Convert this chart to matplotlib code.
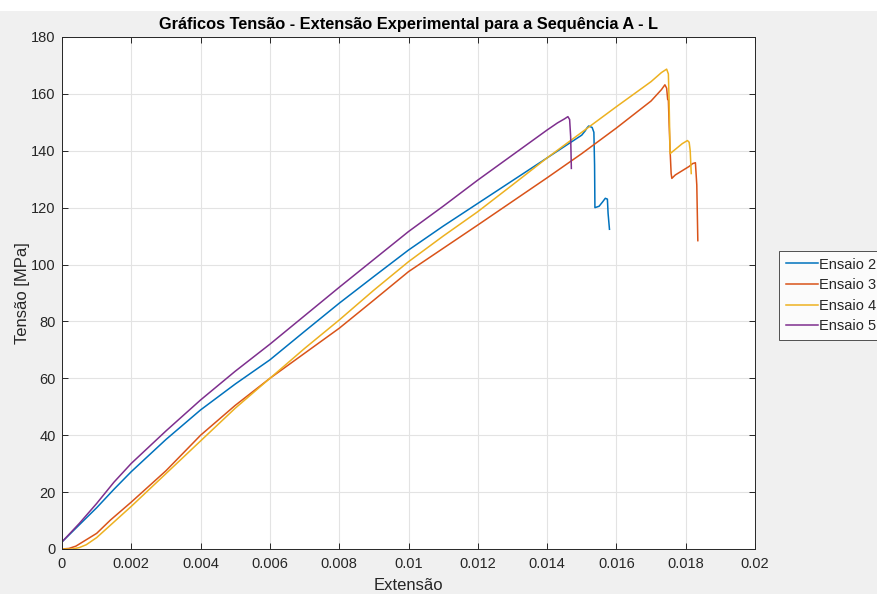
import matplotlib.pyplot as plt
from matplotlib.patches import Rectangle

# extensão / tensão
ens2_x = [0, 0.0005, 0.001, 0.0015, 0.002, 0.003, 0.004, 0.005, 0.006, 0.007, 0.008, 0.009,
          0.010, 0.011, 0.012, 0.013, 0.014, 0.0145, 0.015, 0.0151, 0.01515, 0.0152, 0.0153,
          0.01535, 0.01537, 0.01538, 0.0155, 0.0156, 0.01568, 0.01574, 0.01576, 0.0158]
ens2_y = [2.5, 8.5, 14.5, 21.0, 27.2, 38.5, 48.9, 58.0, 66.5, 76.5, 86.4, 95.8,
          105.1, 113.5, 121.5, 129.5, 137.5, 141.5, 145.5, 147.0, 148.0, 148.7, 148.2,
          146.5, 135.0, 120.0, 120.5, 122.0, 123.3, 123.0, 118.0, 112.4]

ens3_x = [0, 0.0002, 0.0004, 0.0006, 0.0008, 0.001, 0.0014, 0.002, 0.003, 0.004, 0.005, 0.006,
          0.007, 0.008, 0.009, 0.010, 0.011, 0.012, 0.013, 0.014, 0.015, 0.016, 0.017,
          0.0173, 0.0174, 0.01745, 0.01748, 0.0175, 0.01752, 0.01755, 0.01758, 0.0176,
          0.0177, 0.0179, 0.0181, 0.0182, 0.01828, 0.01832, 0.01835]
ens3_y = [0, 0.2, 1.0, 2.5, 4.0, 5.5, 10.2, 16.5, 27.5, 40.0, 50.5, 60.0,
          68.8, 77.6, 87.5, 97.5, 105.7, 113.9, 122.2, 130.5, 139.0, 148.0, 157.5,
          161.5, 163.2, 162.0, 158.0, 157.8, 150.0, 140.0, 132.0, 130.3,
          131.5, 133.0, 134.5, 135.5, 135.8, 128.0, 108.4]

ens4_x = [0, 0.0003, 0.0005, 0.0007, 0.001, 0.0015, 0.002, 0.003, 0.004, 0.005, 0.006, 0.007,
          0.008, 0.009, 0.010, 0.011, 0.012, 0.013, 0.014, 0.015, 0.016, 0.017, 0.0173,
          0.01745, 0.0175, 0.01752, 0.01755, 0.0177, 0.0179, 0.01805, 0.0181, 0.01813,
          0.01816]
ens4_y = [0, 0.0, 0.5, 1.5, 4.0, 9.5, 15.0, 26.5, 38.0, 49.5, 60.0, 70.5,
          80.5, 91.0, 101.0, 110.0, 118.6, 128.0, 137.5, 146.5, 155.5, 164.3, 167.5,
          168.7, 167.0, 158.0, 139.0, 140.5, 142.5, 143.6, 143.0, 140.0,
          132.0]

ens5_x = [0, 0.0005, 0.001, 0.0015, 0.002, 0.003, 0.004, 0.005, 0.006, 0.007, 0.008, 0.009,
          0.010, 0.011, 0.012, 0.013, 0.014, 0.0143, 0.0145, 0.0146, 0.01465, 0.01468,
          0.0147]
ens5_y = [2.5, 9.0, 16.0, 23.5, 30.1, 41.5, 52.4, 62.5, 72.0, 82.0, 92.0, 101.8,
          111.6, 120.5, 129.7, 138.5, 147.3, 149.8, 151.2, 152.0, 151.0, 145.0,
          133.8]

series = [
    (ens2_x, ens2_y, 'Ensaio 2', '#0072BD'),
    (ens3_x, ens3_y, 'Ensaio 3', '#D95319'),
    (ens4_x, ens4_y, 'Ensaio 4', '#EDB120'),
    (ens5_x, ens5_y, 'Ensaio 5', '#7E2F8E'),
]

plt.rcParams['font.family'] = ['Liberation Sans', 'DejaVu Sans']

W, H = 878, 594
fig = plt.figure(figsize=(W / 100, H / 100), dpi=100, facecolor='#f0f0f0')
# white strip along the top edge
fig.patches.append(Rectangle((0, 1 - 11 / H), 1, 11 / H, transform=fig.transFigure,
                             facecolor='white', edgecolor='none', zorder=0))

ax = fig.add_axes([62 / W, (H - 549) / H, (755 - 62) / W, (549 - 37) / H])
ax.set_facecolor('white')

for xs, ys, name, col in series:
    ax.plot(xs, ys, color=col, lw=1.1, label=name)

ax.set_xlim(0, 0.02)
ax.set_ylim(0, 180)
ax.set_xticks([0, 0.002, 0.004, 0.006, 0.008, 0.01, 0.012, 0.014, 0.016, 0.018, 0.02])
ax.set_xticklabels(['0', '0.002', '0.004', '0.006', '0.008', '0.01', '0.012', '0.014',
                    '0.016', '0.018', '0.02'])
ax.set_yticks(range(0, 181, 20))
ax.grid(True, color='#e3e3e3', lw=0.8)
ax.set_axisbelow(True)
ax.tick_params(direction='in', length=4, width=0.7, colors='#262626', labelsize=10.5,
               top=True, right=True)
ax.tick_params(axis='x', pad=6)
ax.tick_params(axis='y', pad=4.5)
for sp in ax.spines.values():
    sp.set_color('#262626')
    sp.set_linewidth(0.7)

ax.set_title('Gráficos Tensão - Extensão Experimental para a Sequência A - L',
             fontsize=11.8, fontweight='bold', color='black', pad=6)
ax.set_xlabel('Extensão', fontsize=12, color='#262626', labelpad=5)
ax.set_ylabel('Tensão [MPa]', fontsize=12, color='#262626', labelpad=1)

leg = ax.legend(loc='upper left', bbox_to_anchor=(779 / W, 1 - 251 / H),
                bbox_transform=fig.transFigure, frameon=True, fancybox=False,
                fontsize=10.5, handlelength=2.2, handletextpad=0.1, labelspacing=0.45,
                borderpad=0.45, borderaxespad=0)
leg.get_frame().set_edgecolor('#262626')
leg.get_frame().set_linewidth(0.7)
for t in leg.get_texts():
    t.set_color('#262626')

fig.savefig('out.png', dpi=100, facecolor=fig.get_facecolor())
